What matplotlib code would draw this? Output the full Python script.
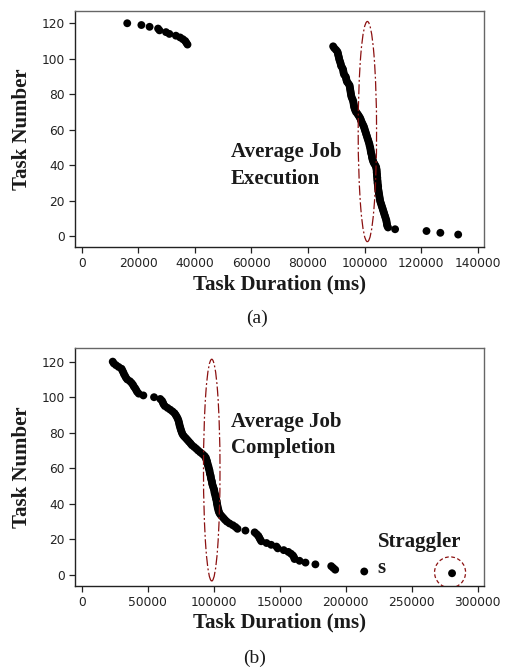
import matplotlib
matplotlib.use("Agg")
import matplotlib.pyplot as plt
from matplotlib.patches import Ellipse

# ---------------- data ----------------
# Task numbers 120 .. 1
tasks = list(range(120, 0, -1))

# (a) task durations (ms), task 120 first
dur_a = [16100, 21100, 24000, 27000, 27500, 29800, 31000, 33300, 34800, 35800,
         36600, 37000, 37400,
         88900, 89300, 89900, 90400, 90600, 90700, 90900, 91000, 91200, 91400,
         91600, 91700, 92100, 92400, 92500, 92600, 92800, 93300, 93500, 93600,
         93800, 94300, 94700, 94800, 94900, 95000, 95100, 95200, 95300, 95500,
         95800, 96000, 96100, 96200, 96300, 96500, 96700, 97000, 97500, 97900,
         98300, 98600, 98800, 99100, 99400, 99700, 99900, 100100, 100300, 100500,
         100700, 100900, 101100, 101300, 101500, 101700, 101800, 102000, 102100,
         102200, 102300, 102500, 102600, 102700, 102900, 103100, 103400, 103800,
         104100, 104200, 104300, 104300, 104400, 104400, 104500, 104500, 104600,
         104600, 104700, 104800, 104800, 104900, 105000, 105100, 105200, 105300,
         105400, 105500, 105700, 105900, 106100, 106300, 106500, 106700, 106900,
         107100, 107300, 107500, 107700, 107800, 107900, 108000, 108300,
         110800, 121900, 126800, 133100]

# (b) task durations (ms), task 120 first
dur_b = [23500, 24300, 26000, 28000, 30200, 30800, 31500, 32000, 32800,
         33500, 34500, 36500, 37800, 38800, 39500, 40500, 41300, 42000, 43200,
         46700, 54800, 59500, 60800, 61500, 62000, 63000, 65000, 67000, 68800,
         70300, 71200, 72000, 72700, 73200, 73600, 73900, 74200, 74600, 75000,
         75400, 75900, 76500, 77500, 78800, 80000, 81200, 82400, 83500, 85200,
         86800, 88200, 89800, 91500, 93000, 94000, 94400, 94900, 95200, 95500,
         96000, 96200, 96700, 96900, 97100, 97600, 97800, 98000, 98500, 98700,
         98900, 99400, 99800, 100300, 100500, 100700, 101200, 101400,
         101700, 102100, 102300, 102500, 102800, 103000, 103400, 103700, 104200,
         105000, 106200, 107400, 108600, 110000, 112000, 114500, 116500, 118000,
         124000, 131000, 132500, 133800, 134500, 135200, 136000, 140000, 143500,
         147500, 148500, 153000, 156500, 158500, 160000, 160800, 161200, 165000,
         169500, 177000, 189000, 190500, 192000, 214000, 280500]

xticks_a = [0, 20000, 40000, 60000, 80000, 100000, 120000, 140000]
xticks_b = [0, 50000, 100000, 150000, 200000, 250000, 300000]
yticks = [0, 20, 40, 60, 80, 100, 120]

# ---------------- styling ----------------
W, H = 508, 668
fig = plt.figure(figsize=(W / 100, H / 100), dpi=100)
serif = "Liberation Serif"
tick_font = "DejaVu Sans"
red = "#8b1010"
txt = "#1a1a1a"
lab_fs = 15
msize = 32


def style(ax, xt, xlim, ylim):
    ax.set_xlim(*xlim)
    ax.set_ylim(*ylim)
    ax.set_xticks(xt)
    ax.set_yticks(yticks)
    ax.set_xticklabels([str(v) for v in xt], fontfamily=tick_font, fontsize=8.8)
    ax.set_yticklabels([str(v) for v in yticks], fontfamily=tick_font, fontsize=8.8)
    ax.tick_params(direction="out", length=4.5, width=0.9, pad=3, colors="#222222")
    for s in ["left", "bottom"]:
        ax.spines[s].set_color("#222222")
        ax.spines[s].set_linewidth(1.0)
    for s in ["top", "right"]:
        ax.spines[s].set_color("#666666")
        ax.spines[s].set_linewidth(1.0)


def px2fig(x, y):
    return x / W, 1 - y / H


# ---- top panel (a) ----
l, b = px2fig(75, 247)
ax1 = fig.add_axes([l, b, (484 - 75) / W, (247 - 11) / H])
ax1.scatter(dur_a, tasks, s=msize, color="black", edgecolors="none", zorder=3)
style(ax1, xticks_a, (-2370, 142230), (-6.0, 126.9))
ax1.add_patch(Ellipse((101000, 59), 6500, 124, fill=False, edgecolor=red,
                      linewidth=0.9, linestyle=(0, (8, 2, 1.5, 2)), zorder=4))
ax1.text(52700, 44.9, "Average Job", fontfamily=serif, fontweight="bold",
         fontsize=lab_fs, color=txt, va="baseline", ha="left")
ax1.text(52700, 29.5, "Execution", fontfamily=serif, fontweight="bold",
         fontsize=lab_fs, color=txt, va="baseline", ha="left")

fig.text(279.5 / W, 1 - 289 / H, "Task Duration (ms)", fontfamily=serif,
         fontweight="bold", fontsize=lab_fs, ha="center", va="baseline", color=txt)
fig.text(21.7 / W, 1 - 129 / H, "Task Number", fontfamily=serif,
         fontweight="bold", fontsize=lab_fs, ha="center", va="center",
         rotation=90, color=txt)
fig.text(256.7 / W, 1 - 318.5 / H, "(a)", fontfamily=serif, fontsize=14,
         ha="center", va="center", color=txt)

# ---- bottom panel (b) ----
l, b = px2fig(75, 585.7)
ax2 = fig.add_axes([l, b, (484 - 75) / W, (585.7 - 348.3) / H])
ax2.scatter(dur_b, tasks, s=msize, color="black", edgecolors="none", zorder=3)
style(ax2, xticks_b, (-5076, 304700), (-6.0, 127.5))
ax2.add_patch(Ellipse((98500, 59), 12500, 124.7, fill=False, edgecolor=red,
                      linewidth=0.9, linestyle=(0, (8, 2, 1.5, 2)), zorder=4))
ax2.add_patch(Ellipse((279000, 1.5), 23500, 17.4, fill=False, edgecolor=red,
                      linewidth=0.9, linestyle=(0, (3, 2)), zorder=4))
ax2.text(112900, 83.4, "Average Job", fontfamily=serif, fontweight="bold",
         fontsize=lab_fs, color=txt, va="baseline", ha="left")
ax2.text(112900, 68.5, "Completion", fontfamily=serif, fontweight="bold",
         fontsize=lab_fs, color=txt, va="baseline", ha="left")
ax2.text(224300, 15.9, "Straggler", fontfamily=serif, fontweight="bold",
         fontsize=lab_fs, color=txt, va="baseline", ha="left")
ax2.text(224300, 1.3, "s", fontfamily=serif, fontweight="bold",
         fontsize=lab_fs, color=txt, va="baseline", ha="left")

fig.text(279.5 / W, 1 - 627.3 / H, "Task Duration (ms)", fontfamily=serif,
         fontweight="bold", fontsize=lab_fs, ha="center", va="baseline", color=txt)
fig.text(21.7 / W, 1 - 466.7 / H, "Task Number", fontfamily=serif,
         fontweight="bold", fontsize=lab_fs, ha="center", va="center",
         rotation=90, color=txt)
fig.text(255 / W, 1 - 658.3 / H, "(b)", fontfamily=serif, fontsize=14,
         ha="center", va="center", color=txt)

fig.savefig("out.png", dpi=100)
